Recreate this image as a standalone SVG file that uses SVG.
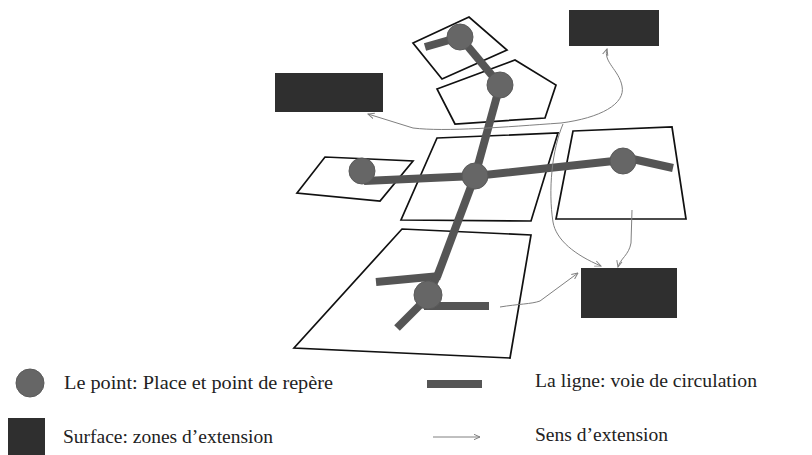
<svg xmlns="http://www.w3.org/2000/svg" width="812" height="455" viewBox="0 0 812 455">
<defs>
<style>
.zone{fill:#ffffff;stroke:#111;stroke-width:1.7;stroke-linejoin:miter}
.road{stroke:#555;stroke-width:8;fill:none;stroke-linecap:butt}
.pt{fill:#666;stroke:#5a5a5a;stroke-width:1}
.ext{fill:#2f2f2f}
.flow{fill:none;stroke:#808080;stroke-width:1}
.lbl{font-family:"Liberation Serif",serif;font-size:18px;fill:#222}
</style>
<marker id="ah" viewBox="0 0 10 10" refX="9" refY="5" markerWidth="7" markerHeight="7" orient="auto" markerUnits="userSpaceOnUse">
<path d="M0,1 L9,5 L0,9" fill="none" stroke="#808080" stroke-width="1.4"/>
</marker>
</defs>
<rect width="812" height="455" fill="#fff"/>

<g id="zones">
<polygon id="zone-top" class="zone" points="413,43 469,17 507,50 442,79"/>
<polygon id="zone-pentagon" class="zone" points="437,89 515,60 556,85 545,118 455,124"/>
<polygon id="zone-left" class="zone" points="297,193 325,157 413,161 380,201"/>
<polygon id="zone-center" class="zone" points="437,138 558,133 531,221 401,220"/>
<polygon id="zone-right" class="zone" points="573,131 672,127 686,219 556,219"/>
<polygon id="zone-bottom" class="zone" points="402,229 531,235 510,358 294,348"/>
</g>

<g id="connectors">
<g id="roads">
<line class="road" x1="425" y1="47" x2="460" y2="37"/>
<line class="road" x1="460" y1="37" x2="500" y2="85"/>
<line class="road" x1="500" y1="85" x2="475" y2="176"/>
<line class="road" x1="475" y1="176" x2="437" y2="277"/>
<line class="road" x1="376" y1="282" x2="440" y2="276"/>
<line class="road" x1="437" y1="276" x2="428" y2="295"/>
<line class="road" x1="424" y1="306" x2="489" y2="306"/>
<line class="road" x1="421" y1="304" x2="397" y2="328"/>
<polyline class="road" points="364,181 475,176 623,160"/>
<line class="road" x1="628" y1="158" x2="673" y2="168"/>
</g>
<g id="flows">
<path class="flow" marker-end="url(#ah)" d="M561,123 C505,127 445,132 413,128 L368,114"/>
<path class="flow" marker-end="url(#ah)" d="M561,123 C600,118 626,104 622,86 C619,70 603,62 607,49"/>
<path class="flow" marker-end="url(#ah)" d="M563,124 C552,150 548,190 553,222 C556,240 575,255 601,266"/>
<path class="flow" marker-end="url(#ah)" d="M632,210 L631,243 C629,255 620,259 618,267"/>
<path class="flow" marker-end="url(#ah)" d="M500,307 C518,304 532,304 540,301 L578,273"/>
</g>
</g>

<g id="points">
<circle id="p-top" class="pt" cx="460" cy="37" r="13"/>
<circle id="p-pentagon" class="pt" cx="500" cy="85" r="13"/>
<circle id="p-left" class="pt" cx="362" cy="171" r="13"/>
<circle id="p-center" class="pt" cx="475" cy="176" r="13"/>
<circle id="p-right" class="pt" cx="623" cy="161" r="13"/>
<circle id="p-bottom" class="pt" cx="428" cy="295" r="14"/>
</g>

<g id="extensions">
<rect id="ext-left" class="ext" x="275" y="73" width="108" height="39"/>
<rect id="ext-top" class="ext" x="569" y="10" width="90" height="36"/>
<rect id="ext-bottom" class="ext" x="581" y="268" width="96" height="50"/>
</g>

<g id="legend">
<circle class="pt" cx="30" cy="383" r="14"/>
<text class="lbl" x="64" y="389" textLength="269" lengthAdjust="spacingAndGlyphs">Le point: Place et point de repère</text>
<rect x="427" y="380" width="55" height="8" fill="#555"/>
<text class="lbl" x="535" y="387" textLength="222" lengthAdjust="spacingAndGlyphs">La ligne: voie de circulation</text>
<rect class="ext" x="8" y="418" width="37" height="37"/>
<text class="lbl" x="63" y="443" textLength="210" lengthAdjust="spacingAndGlyphs">Surface: zones d’extension</text>
<line class="flow" x1="433" y1="437" x2="480" y2="437" marker-end="url(#ah)"/>
<text class="lbl" x="535" y="441" textLength="133" lengthAdjust="spacingAndGlyphs">Sens d’extension</text>
</g>
</svg>
